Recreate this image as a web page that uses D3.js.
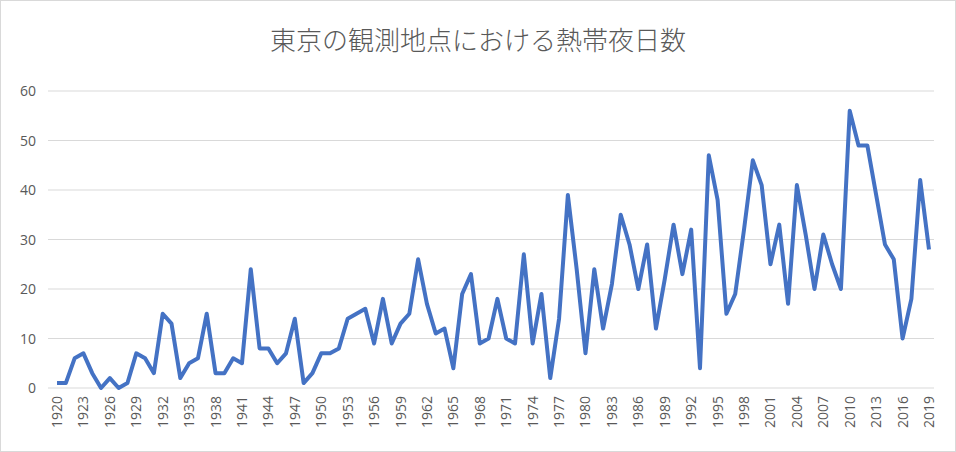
<!DOCTYPE html>
<html><head><meta charset="utf-8">
<script src="https://cdn.jsdelivr.net/npm/d3@7"></script>
<style>body{margin:0;background:#fff}text{font-family:"Open Sans","Noto Sans CJK JP",sans-serif}</style>
</head><body><div id="chart"></div>
<script>
var startYear = 1920;
var nights = [1,1,6,7,3,0,2,0,1,7, 6,3,15,13,2,5,6,15,3,3, 6,5,24,8,8,5,7,14,1,3,
  7,7,8,14,15,16,9,18,9,13, 15,26,17,11,12,4,19,23,9,10, 18,10,9,27,9,19,2,14,39,24,
  7,24,12,21,35,29,20,29,12,22, 33,23,32,4,47,38,15,19,32,46, 41,25,33,17,41,31,20,31,25,20,
  56,49,49,39,29,26,10,18,42,28];
var years = nights.map(function (d, i) { return startYear + i; });
var yTicks = [0,10,20,30,40,50,60];
var title = "東京の観測地点における熱帯夜日数";

var W = 956, H = 452;
var svg = d3.select("#chart").append("svg").attr("width", W).attr("height", H);
svg.append("rect").attr("x",0.5).attr("y",0.5).attr("width",W-1).attr("height",H-1)
  .attr("fill","#fff").attr("stroke","#d9d9d9");

var x = d3.scaleLinear().domain([startYear, startYear + nights.length - 1]).range([57, 929]);
var y = d3.scaleLinear().domain([0, 60]).range([388, 91]);

svg.append("text").attr("x", W/2).attr("y", 50).attr("text-anchor","middle")
  .style("font-family", '"Noto Sans CJK JP",sans-serif').attr("font-weight", 300)
  .attr("font-size", 26).attr("fill","#595959").text(title);

// grid
svg.append("g").selectAll("line").data(yTicks).enter().append("line")
  .attr("x1", 48).attr("x2", 934)
  .attr("y1", function (d) { return y(d); }).attr("y2", function (d) { return y(d); })
  .attr("stroke", "#d9d9d9").attr("stroke-width", 1);

svg.append("g").selectAll("text").data(yTicks).enter().append("text")
  .attr("x", 36).attr("y", function (d) { return y(d) + 5; })
  .attr("text-anchor","end").attr("font-size", 14).attr("fill","#595959")
  .text(function (d) { return d; });

var xLabels = years.filter(function (d) { return (d - startYear) % 3 === 0; });
svg.append("g").selectAll("text").data(xLabels).enter().append("text")
  .attr("transform", function (d) { return "translate(" + (x(d) + 5) + ",396) rotate(-90)"; })
  .attr("text-anchor","end").attr("font-size", 14).attr("fill","#595959")
  .text(function (d) { return d; });

var line = d3.line().x(function (d, i) { return x(years[i]); }).y(function (d) { return y(d); });
svg.append("path").datum(nights).attr("d", line).attr("fill","none")
  .attr("stroke","#4472c4").attr("stroke-width", 4).attr("stroke-linejoin","round");
</script></body></html>
